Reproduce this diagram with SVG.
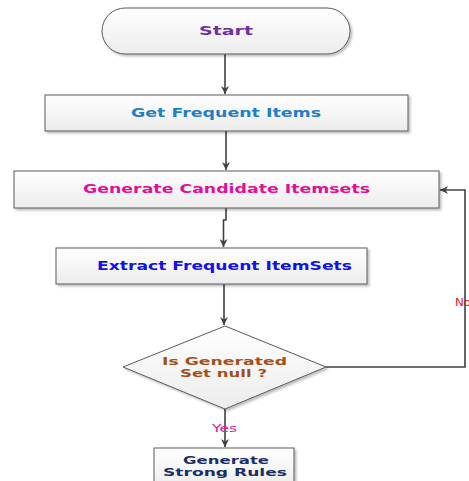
<svg xmlns="http://www.w3.org/2000/svg" width="469" height="481" viewBox="0 0 469 481">
<defs>
<linearGradient id="g" x1="0" y1="0" x2="0" y2="1">
<stop offset="0" stop-color="#ffffff"/>
<stop offset="1" stop-color="#ececec"/>
</linearGradient>
<filter id="sh" x="-10%" y="-10%" width="130%" height="140%">
<feDropShadow dx="2" dy="2" stdDeviation="1.2" flood-color="#000" flood-opacity="0.25"/>
</filter>
<marker id="ah" viewBox="0 0 10 10" refX="10" refY="5" markerWidth="10" markerHeight="8" markerUnits="userSpaceOnUse" orient="auto">
<path d="M0,0 L10,5 L0,10 L3,5 Z" fill="#404040"/>
</marker>
</defs>
<style>
.n{fill:url(#g);stroke:#5a5a5a;stroke-width:1;filter:url(#sh)}
.t{font-family:"DejaVu Sans",Verdana,sans-serif;font-weight:bold;font-size:12px;text-anchor:middle}
.s{font-size:10.5px}
.c{fill:none;stroke:#404040;stroke-width:1.6}
.l{font-family:"DejaVu Sans",Verdana,sans-serif;font-size:10px}
</style>
<g id="connectors">
<path class="c" d="M225,54 V94" marker-end="url(#ah)"/>
<path class="c" d="M226,131 V170" marker-end="url(#ah)"/>
<path class="c" d="M226,208 V220 H223.5 V247" marker-end="url(#ah)"/>
<path class="c" d="M224,284 V325" marker-end="url(#ah)"/>
<path class="c" d="M326,367 H465 V190 H440" marker-end="url(#ah)"/>
<path class="c" d="M225,409 V447" marker-end="url(#ah)"/>
<text class="l" x="455" y="306" fill="#e8141e" textLength="16" lengthAdjust="spacingAndGlyphs">No</text>
<text class="l" x="212" y="432" fill="#e0189a" textLength="25" lengthAdjust="spacingAndGlyphs">Yes</text>
</g>
<g id="start">
<rect class="n" x="102" y="8" width="248" height="46" rx="23" ry="23"/>
<text class="t" x="226" y="35" fill="#7030a0" textLength="54" lengthAdjust="spacingAndGlyphs">Start</text>
</g>
<g id="get-frequent-items">
<rect class="n" x="45" y="95" width="363" height="36"/>
<text class="t" x="226" y="117" fill="#1f7fc8" textLength="190" lengthAdjust="spacingAndGlyphs">Get Frequent Items</text>
</g>
<g id="generate-candidate">
<rect class="n" x="14" y="171" width="425" height="37"/>
<text class="t" x="226.5" y="193" fill="#e0109a" textLength="287" lengthAdjust="spacingAndGlyphs">Generate Candidate Itemsets</text>
</g>
<g id="extract-frequent">
<rect class="n" x="56" y="248" width="311" height="36"/>
<text class="t" x="224.5" y="270" fill="#1010f0" textLength="255" lengthAdjust="spacingAndGlyphs">Extract Frequent ItemSets</text>
</g>
<g id="decision">
<polygon class="n" points="225,326 326,367 225,409 123,367"/>
<text class="t s" x="224.5" y="365" fill="#a5501a" textLength="125" lengthAdjust="spacingAndGlyphs">Is Generated</text>
<text class="t s" x="223.5" y="377" fill="#a5501a" textLength="87" lengthAdjust="spacingAndGlyphs">Set null ?</text>
</g>
<g id="generate-rules">
<rect class="n" x="154" y="448" width="140" height="40"/>
<text class="t s" x="226" y="464" fill="#1a2f6a" textLength="86" lengthAdjust="spacingAndGlyphs">Generate</text>
<text class="t s" x="225" y="476" fill="#1a2f6a" textLength="124" lengthAdjust="spacingAndGlyphs">Strong Rules</text>
</g>
</svg>
